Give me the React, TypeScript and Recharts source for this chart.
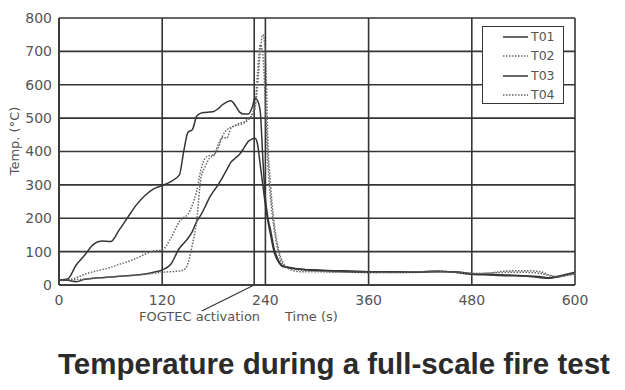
import React from "react";
import { LineChart, Line, XAxis, YAxis, CartesianGrid, ReferenceLine, Legend } from "recharts";

const timeSeconds = [0, 10, 20, 30, 40, 50, 60, 70, 80, 90, 100, 110, 120, 130, 140, 145, 150, 155, 160, 165, 170, 175, 180, 185, 190, 195, 200, 205, 210, 215, 220, 225, 228, 231, 234, 237, 240, 243, 246, 250, 255, 260, 270, 280, 300, 320, 340, 360, 380, 400, 420, 440, 460, 480, 500, 520, 540, 560, 570, 580, 590, 600];

const t01 = [15, 18, 60, 90, 122, 132, 130, 165, 203, 240, 268, 288, 298, 310, 330, 400, 458, 465, 505, 515, 517, 518, 520, 528, 540, 548, 552, 538, 518, 512, 512, 535, 560, 552, 520, 380, 260, 200, 165, 110, 75, 58, 52, 48, 45, 43, 42, 40, 40, 40, 38, 40, 40, 34, 32, 30, 28, 22, 20, 24, 30, 36];

const t02 = [15, 16, 22, 32, 40, 46, 53, 62, 70, 80, 92, 102, 105, 140, 190, 202, 212, 240, 280, 345, 380, 388, 390, 420, 442, 440, 470, 478, 480, 485, 495, 515, 540, 640, 720, 690, 540, 360, 260, 170, 100, 62, 50, 45, 42, 40, 38, 37, 38, 37, 38, 40, 38, 33, 35, 38, 38, 35, 28, 25, 28, 33];

const t03 = [15, 14, 10, 17, 20, 22, 24, 26, 28, 30, 33, 38, 45, 62, 110, 125, 140, 160, 190, 210, 235, 262, 282, 300, 322, 345, 368, 380, 392, 410, 430, 438, 440, 420, 360, 300, 240, 190, 150, 100, 70, 55, 50, 47, 44, 42, 40, 38, 40, 38, 40, 42, 38, 32, 30, 28, 27, 25, 22, 26, 32, 38];

const t04 = [15, 15, 16, 18, 20, 22, 24, 26, 28, 30, 32, 35, 38, 40, 42, 45, 65, 120, 190, 320, 355, 380, 388, 410, 445, 465, 472, 478, 485, 488, 500, 510, 530, 600, 700, 750, 700, 420, 300, 190, 110, 70, 45, 40, 40, 38, 38, 38, 37, 38, 40, 40, 38, 35, 36, 42, 43, 40, 30, 25, 30, 35];

const xTicks = [0, 120, 240, 360, 480, 600];
const yTicks = [0, 100, 200, 300, 400, 500, 600, 700, 800];
const fogtecActivation = 227;

const seriesNames = ["T01", "T02", "T03", "T04"];
const seriesValues = [t01, t02, t03, t04];
const seriesDashed = [false, true, false, true];

const data = timeSeconds.map((t, i) => {
  const row: Record<string, number> = { t };
  seriesNames.forEach((n, k) => {
    row[n] = seriesValues[k][i];
  });
  return row;
});

const INK = "#353535";
const TEXT = "#555";
const FONT = "'DejaVu Sans', sans-serif";

const renderLegend = () => (
  <div
    style={{
      width: 82,
      height: 78,
      border: `1.5px solid ${INK}`,
      background: "#fff",
      boxSizing: "border-box",
      paddingTop: 0,
    }}
  >
    {seriesNames.map((n, k) => (
      <div key={n} style={{ display: "flex", alignItems: "center", height: 19.5 }}>
        <svg width={48} height={10} style={{ display: "block" }}>
          <line
            x1={20}
            x2={45}
            y1={5}
            y2={5}
            stroke={seriesDashed[k] ? "#666" : INK}
            strokeWidth={1.5}
            strokeDasharray={seriesDashed[k] ? "1.5 1.5" : undefined}
          />
        </svg>
        <span style={{ fontFamily: FONT, fontSize: 12.5, color: TEXT, lineHeight: "1" }}>{n}</span>
      </div>
    ))}
  </div>
);

export default function App() {
  return (
    <div style={{ position: "absolute", left: 0, top: 0, width: 625, height: 390, background: "#fff" }}>
      <LineChart
        width={625}
        height={390}
        data={data}
        margin={{ top: 18, right: 50, left: 9, bottom: 75 }}
      >
        <CartesianGrid stroke={INK} strokeWidth={1.6} horizontalValues={yTicks} verticalValues={xTicks} />
        <XAxis
          dataKey="t"
          type="number"
          domain={[0, 600]}
          ticks={xTicks}
          tickLine={false}
          axisLine={{ stroke: INK, strokeWidth: 1.6 }}
          tick={{ fill: TEXT, fontSize: 14, fontFamily: FONT }}
          tickMargin={4}
          height={30}
          interval={0}
        />
        <YAxis
          type="number"
          domain={[0, 800]}
          ticks={yTicks}
          tickLine={false}
          axisLine={{ stroke: INK, strokeWidth: 1.6 }}
          tick={{ fill: TEXT, fontSize: 14, fontFamily: FONT }}
          tickMargin={1}
          width={50}
          interval={0}
        />
        <ReferenceLine x={fogtecActivation} stroke={INK} strokeWidth={1.6} />
        <ReferenceLine
          segment={[
            { x: fogtecActivation, y: 0 },
            { x: 166, y: -78 },
          ]}
          stroke={INK}
          strokeWidth={1.2}
          ifOverflow="visible"
        />
        {seriesNames.map((n, k) => (
          <Line
            key={n}
            dataKey={n}
            type="monotone"
            stroke={seriesDashed[k] ? "#666" : INK}
            strokeWidth={1.5}
            strokeDasharray={seriesDashed[k] ? "1.5 1.5" : undefined}
            dot={false}
            isAnimationActive={false}
          />
        ))}
        <Legend
          layout="vertical"
          align="center"
          verticalAlign="middle"
          content={renderLegend}
          wrapperStyle={{ left: 482, top: 26, width: 82, height: 78 }}
        />
      </LineChart>
      <div
        style={{
          position: "absolute",
          left: -35,
          top: 133,
          width: 100,
          textAlign: "center",
          transform: "rotate(-90deg)",
          fontFamily: FONT,
          fontSize: 13,
          color: TEXT,
          lineHeight: "16px",
          whiteSpace: "nowrap",
        }}
      >
        Temp. (°C)
      </div>
      <div
        style={{
          position: "absolute",
          left: 139,
          top: 309,
          fontFamily: FONT,
          fontSize: 13,
          color: TEXT,
          lineHeight: "16px",
          whiteSpace: "nowrap",
        }}
      >
        FOGTEC activation
      </div>
      <div
        style={{
          position: "absolute",
          left: 285,
          top: 309,
          fontFamily: FONT,
          fontSize: 13,
          color: TEXT,
          lineHeight: "16px",
          whiteSpace: "nowrap",
        }}
      >
        Time (s)
      </div>
      <div
        style={{
          position: "absolute",
          left: 58,
          top: 347,
          fontFamily: "'Liberation Sans', Arial, sans-serif",
          fontWeight: 700,
          fontSize: 29.5,
          color: "#2b2b2b",
          whiteSpace: "nowrap",
        }}
      >
        Temperature during a full-scale fire test
      </div>
    </div>
  );
}
